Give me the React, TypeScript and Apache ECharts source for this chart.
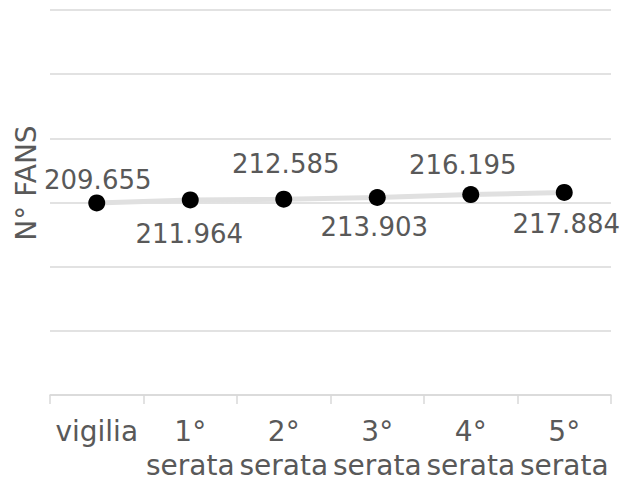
import React, { useEffect, useRef } from "react";
import * as echarts from "echarts";

// Fan count per evening of the festival
const categories = ["vigilia", "1°\nserata", "2°\nserata", "3°\nserata", "4°\nserata", "5°\nserata"];
const fans = [209655, 211964, 212585, 213903, 216195, 217884];

// Label placement around each marker (dx, dy from the marker centre)
const labelOffsets: [number, number][] = [
  [1, -23],
  [-1, 34],
  [2, -35],
  [-3, 30],
  [-8, -30],
  [2, 32],
];

const TEXT = "#595959";
const GRID = "#d9d9d9";
const FONT = "DejaVu Sans";

// Italian grouping: 209655 -> "209.655"
const formatIt = (v: number) => String(v).replace(/\B(?=(\d{3})+(?!\d))/g, ".");

export default function App() {
  const ref = useRef<HTMLDivElement>(null);

  useEffect(() => {
    if (!ref.current) return;
    const chart = echarts.init(ref.current, undefined, { renderer: "svg" });
    chart.setOption({
      animation: false,
      backgroundColor: "#ffffff",
      grid: { left: 50, right: 12, top: 10, bottom: 86, containLabel: false },
      graphic: [
        {
          type: "text",
          x: 26,
          y: 183,
          rotation: Math.PI / 2,
          style: {
            text: "N° FANS",
            fill: TEXT,
            fontSize: 28,
            fontFamily: FONT,
            align: "center",
            verticalAlign: "middle",
          },
        },
      ],
      xAxis: {
        type: "category",
        data: categories,
        boundaryGap: true,
        axisLine: { lineStyle: { color: GRID, width: 1.5 } },
        axisTick: { show: true, length: 9, lineStyle: { color: GRID, width: 1.5 } },
        axisLabel: {
          interval: 0,
          color: TEXT,
          fontSize: 28,
          lineHeight: 34,
          fontFamily: FONT,
          margin: 19,
        },
        splitLine: { show: false },
      },
      yAxis: [
        {
          type: "value",
          min: 60000,
          max: 360000,
          show: false,
        },
        {
          type: "value",
          min: 0,
          max: 300000,
          interval: 50000,
          axisLine: { show: false },
          axisTick: { show: false },
          axisLabel: { show: false },
          splitLine: { lineStyle: { color: GRID, width: 1.5 } },
        },
      ],
      series: [
        {
          type: "line",
          yAxisIndex: 0,
          data: fans.map((v, i) => ({
            value: v,
            label: { offset: labelOffsets[i] },
          })),
          symbol: "circle",
          symbolSize: 17,
          itemStyle: { color: "#000000" },
          lineStyle: { color: "#e0e0e0", width: 5 },
          label: {
            show: true,
            position: "inside",
            color: TEXT,
            fontSize: 26,
            fontFamily: FONT,
            formatter: (p: any) => formatIt(p.value),
          },
        },
        {
          // empty series to bind the grid axis
          type: "line",
          yAxisIndex: 1,
          data: [],
        },
      ],
    });
    return () => chart.dispose();
  }, []);

  return (
    <div
      ref={ref}
      style={{ position: "fixed", left: 0, top: 0, width: 623, height: 482 }}
    />
  );
}
